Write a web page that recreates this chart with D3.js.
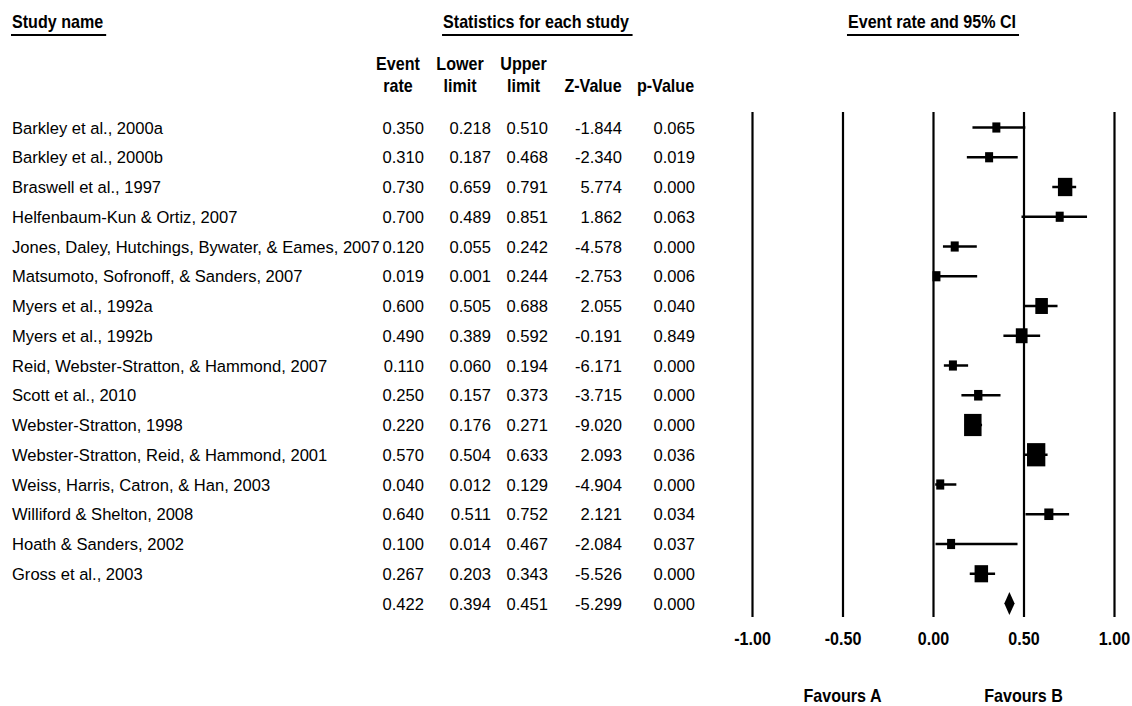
<!DOCTYPE html>
<html>
<head>
<meta charset="utf-8">
<script src="https://cdn.jsdelivr.net/npm/d3@7"></script>
<style>
  html, body { margin: 0; padding: 0; background: #fff; }
  svg { display: block; font-family: "Liberation Sans", Arial, sans-serif; }
</style>
</head>
<body>
<svg id="chart" width="1132" height="706"></svg>
<script>
// Study-level results (event rate with 95% CI)
const studies = [
  "Barkley et al., 2000a",
  "Barkley et al., 2000b",
  "Braswell et al., 1997",
  "Helfenbaum-Kun & Ortiz, 2007",
  "Jones, Daley, Hutchings, Bywater, & Eames, 2007",
  "Matsumoto, Sofronoff, & Sanders, 2007",
  "Myers et al., 1992a",
  "Myers et al., 1992b",
  "Reid, Webster-Stratton, & Hammond, 2007",
  "Scott et al., 2010",
  "Webster-Stratton, 1998",
  "Webster-Stratton, Reid, & Hammond, 2001",
  "Weiss, Harris, Catron, & Han, 2003",
  "Williford & Shelton, 2008",
  "Hoath & Sanders, 2002",
  "Gross et al., 2003"
];
const eventRate  = [0.350, 0.310, 0.730, 0.700, 0.120, 0.019, 0.600, 0.490, 0.110, 0.250, 0.220, 0.570, 0.040, 0.640, 0.100, 0.267];
const lowerLimit = [0.218, 0.187, 0.659, 0.489, 0.055, 0.001, 0.505, 0.389, 0.060, 0.157, 0.176, 0.504, 0.012, 0.511, 0.014, 0.203];
const upperLimit = [0.510, 0.468, 0.791, 0.851, 0.242, 0.244, 0.688, 0.592, 0.194, 0.373, 0.271, 0.633, 0.129, 0.752, 0.467, 0.343];
const zValue     = [-1.844, -2.340, 5.774, 1.862, -4.578, -2.753, 2.055, -0.191, -6.171, -3.715, -9.020, 2.093, -4.904, 2.121, -2.084, -5.526];
const pValue     = [0.065, 0.019, 0.000, 0.063, 0.000, 0.006, 0.040, 0.849, 0.000, 0.000, 0.000, 0.036, 0.000, 0.034, 0.037, 0.000];

// Pooled estimate: event rate, lower, upper, Z, p
const summaryStats = [0.422, 0.394, 0.451, -5.299, 0.000];

// Axis
const axisTicks = [-1.0, -0.5, 0.0, 0.5, 1.0];
const sideLabels = ["Favours A", "Favours B"];

// Column headers
const colHeaders = [["Event", "rate"], ["Lower", "limit"], ["Upper", "limit"], ["", "Z-Value"], ["", "p-Value"]];

const svg = d3.select("#chart");
const FONT_BODY = 17, SX_BODY = 0.975;
const FONT_BOLD = 17.5, SX_BOLD = 0.92;

// Plain hyphen for negative numbers
const locale = d3.formatLocale({ decimal: ".", thousands: ",", grouping: [3], currency: ["", ""], minus: "-" });

function label(g, x, y, str, opts = {}) {
  const bold = !!opts.bold;
  const t = g.append("text")
    .attr("transform", `translate(${x},${y}) scale(${bold ? SX_BOLD : SX_BODY},1)`)
    .attr("text-anchor", opts.anchor || "start")
    .attr("font-size", bold ? FONT_BOLD : FONT_BODY)
    .attr("font-weight", bold ? "bold" : "normal")
    .attr("fill", "#000")
    .text(str);
  return t;
}

function underlined(g, x, y, str, anchor) {
  const t = label(g, x, y, str, { bold: true, anchor });
  const bb = t.node().getBBox();
  const w = bb.width * SX_BOLD;
  const x0 = x + bb.x * SX_BOLD;
  g.append("line")
    .attr("x1", x0 - 1).attr("x2", x0 + w + 3)
    .attr("y1", y + 7).attr("y2", y + 7)
    .attr("stroke", "#000").attr("stroke-width", 2);
}

// Scales
const x = d3.scaleLinear().domain([-1, 1]).range([752, 1114]);
const nRows = studies.length + 1;
const y = d3.scaleLinear().domain([0, nRows - 1]).range([127.5, 603.5]);
const plotTop = 112, plotBottom = 617;

// Box size from inverse-variance weight on the logit scale
const logit = p => Math.log(p / (1 - p));
const weights = lowerLimit.map((lo, i) => {
  const se = (logit(upperLimit[i]) - logit(lo)) / (2 * 1.959964);
  return 1 / (se * se);
});
const boxW = d3.scaleSqrt().domain([0, d3.max(weights)]).range([0, 18.3]);
const BOX_RATIO = 1.27, MIN_W = 8;

// Titles
const head = svg.append("g");
underlined(head, 12, 28, "Study name", "start");
underlined(head, 536, 28, "Statistics for each study", "middle");
underlined(head, 932, 28, "Event rate and 95% CI", "middle");

const colCenters = [398, 460, 523.5, 593, 665.5];
const colRight = [424, 491, 548, 622, 695];
colHeaders.forEach((h, i) => {
  if (h[0]) label(head, colCenters[i], 70, h[0], { bold: true, anchor: "middle" });
  label(head, colCenters[i], 92, h[1], { bold: true, anchor: "middle" });
});

// Table rows
const fmt = locale.format(".3f");
const table = svg.append("g");
studies.forEach((name, i) => {
  const by = y(i) + 6;
  label(table, 12, by, name);
  [eventRate[i], lowerLimit[i], upperLimit[i], zValue[i], pValue[i]].forEach((v, j) => {
    label(table, colRight[j], by, fmt(v), { anchor: "end" });
  });
});
summaryStats.forEach((v, j) => {
  label(table, colRight[j], y(nRows - 1) + 6, fmt(v), { anchor: "end" });
});

// Reference lines and tick labels
const axis = d3.axisBottom(x)
  .tickValues(axisTicks)
  .tickFormat(locale.format(".2f"))
  .tickSizeInner(-(plotBottom - plotTop))
  .tickSizeOuter(0)
  .tickPadding(0);
const ag = svg.append("g").attr("transform", `translate(0,${plotBottom})`).call(axis);
ag.select(".domain").remove();
ag.selectAll(".tick line").attr("stroke", "#000").attr("stroke-width", 2.2);
ag.selectAll(".tick text")
  .attr("y", 28).attr("dy", 0)
  .attr("transform", `scale(${SX_BOLD},1)`)
  .attr("font-family", "Liberation Sans, Arial, sans-serif")
  .attr("font-size", FONT_BOLD)
  .attr("font-weight", "bold")
  .attr("fill", "#000");

// Side labels
const foot = svg.append("g");
label(foot, x(-0.5), 702, sideLabels[0], { bold: true, anchor: "middle" });
label(foot, x(0.5), 702, sideLabels[1], { bold: true, anchor: "middle" });

// Confidence intervals and weighted boxes
const marks = svg.append("g");
studies.forEach((name, i) => {
  const cy = y(i);
  marks.append("line")
    .attr("x1", x(lowerLimit[i])).attr("x2", x(upperLimit[i]))
    .attr("y1", cy).attr("y2", cy)
    .attr("stroke", "#000").attr("stroke-width", 2.5);
  const w = Math.max(MIN_W, boxW(weights[i]));
  const h = w * BOX_RATIO;
  marks.append("rect")
    .attr("x", x(eventRate[i]) - w / 2).attr("y", cy - h / 2)
    .attr("width", w).attr("height", h)
    .attr("fill", "#000");
});

// Pooled diamond
const sy = y(nRows - 1);
marks.append("path")
  .attr("d", `M${x(summaryStats[1])},${sy} L${x(summaryStats[0])},${sy - 11.5} L${x(summaryStats[2])},${sy} L${x(summaryStats[0])},${sy + 11.5} Z`)
  .attr("fill", "#000");
</script>
</body>
</html>
